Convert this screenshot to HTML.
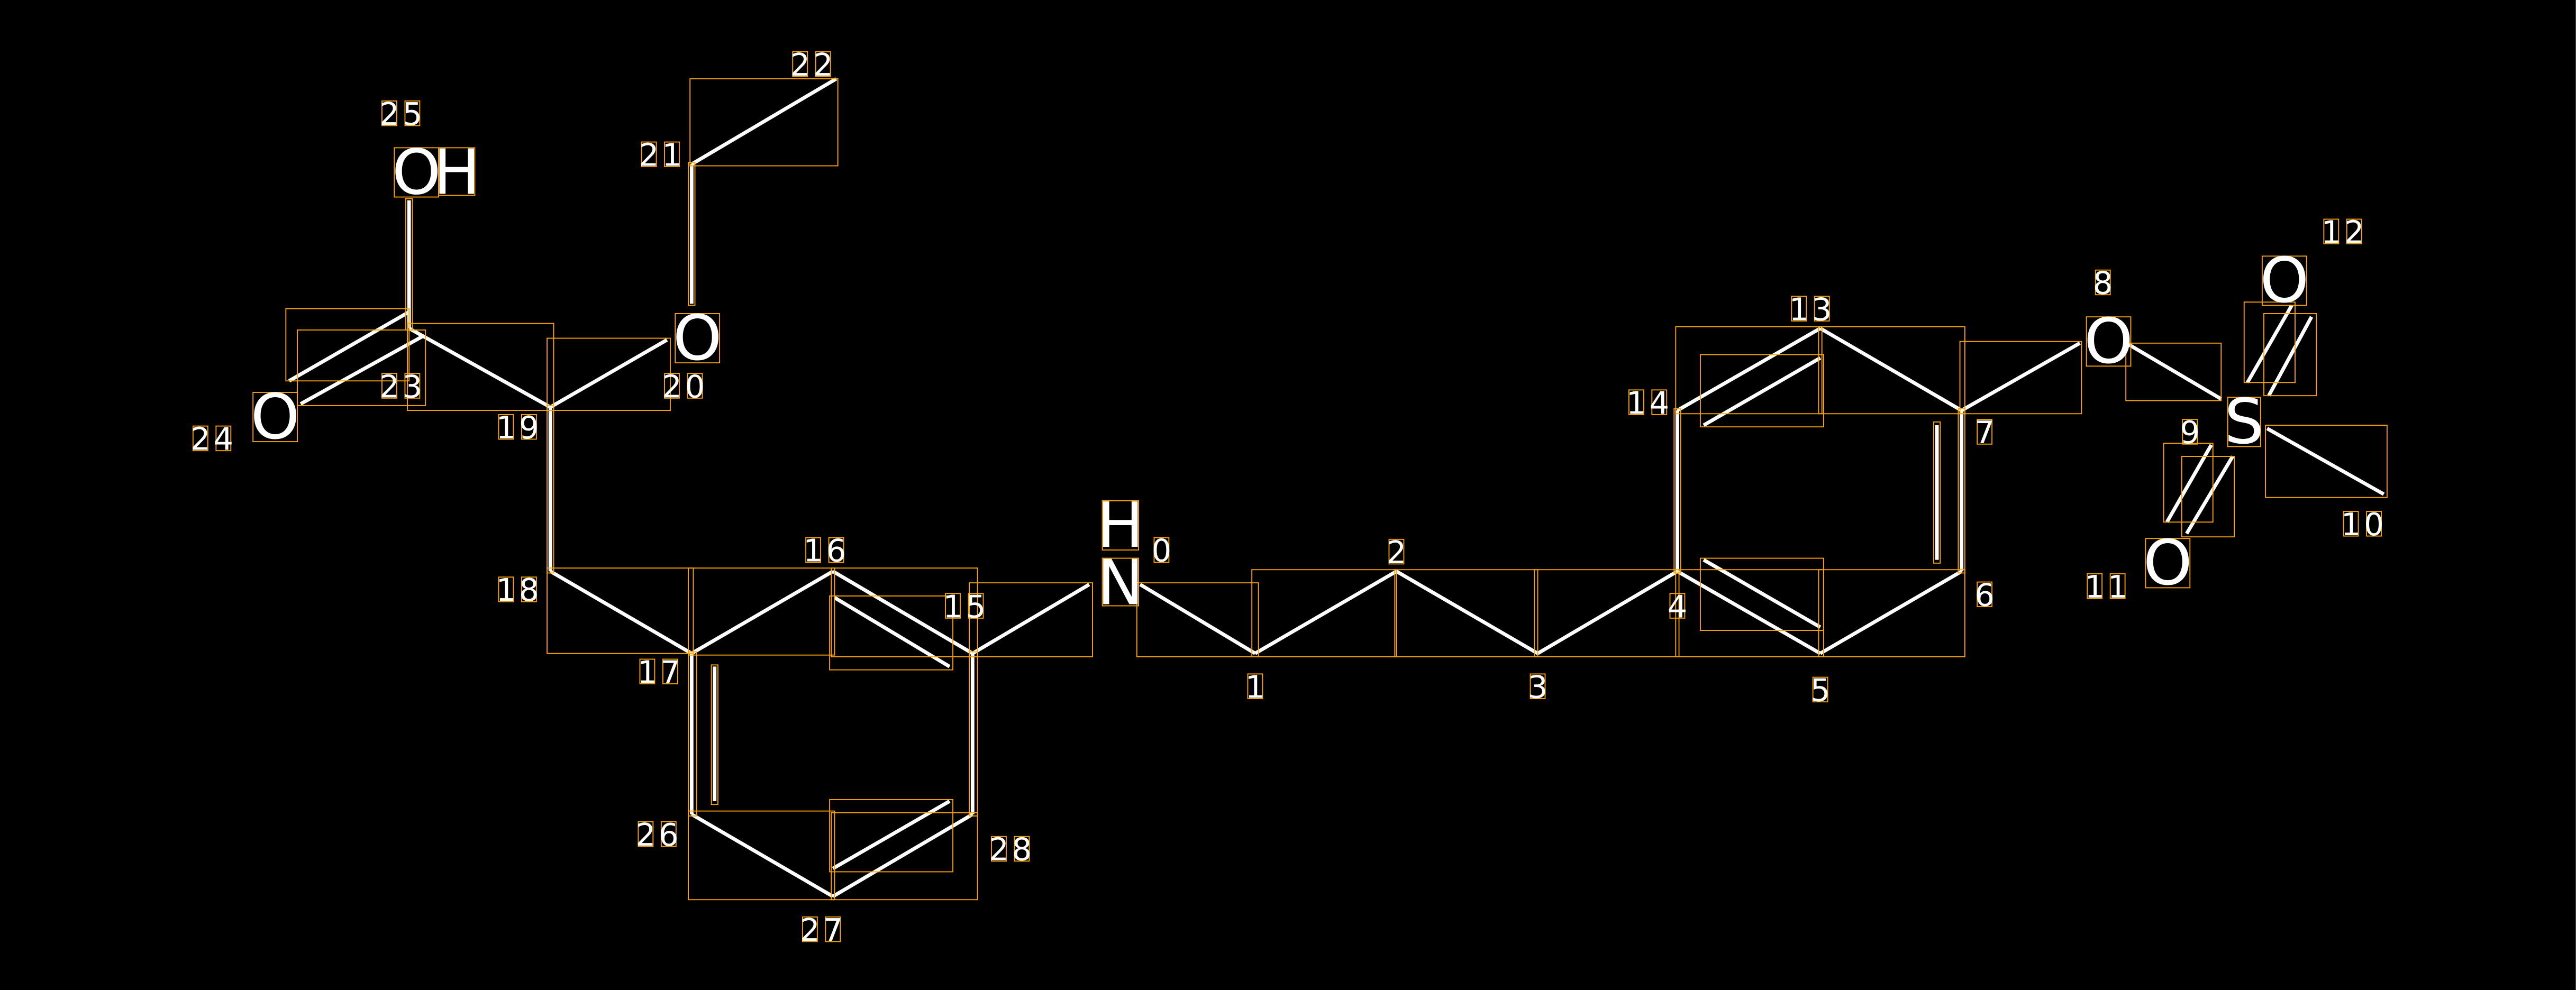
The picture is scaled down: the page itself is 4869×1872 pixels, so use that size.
<!DOCTYPE html>
<html><head><meta charset="utf-8"><style>
html,body{margin:0;padding:0;background:#000;}
svg{display:block;}
.b{stroke:#fff;stroke-width:2.2;stroke-linecap:butt;fill:none}
.r{stroke:#FFA500;stroke-width:0.6;fill:none}
.a{font-family:"DejaVu Sans","Liberation Sans",sans-serif;font-size:38px;fill:#fff;text-anchor:middle}
.d{font-family:"DejaVu Sans","Liberation Sans",sans-serif;font-size:19px;fill:#fff;text-anchor:middle}
</style></head><body>
<svg width="4869" height="1872" viewBox="0 0 1568 603" preserveAspectRatio="none" xmlns="http://www.w3.org/2000/svg">
<rect x="0" y="0" width="1568" height="603" fill="#000"/>
<line x1="1567.6" y1="0" x2="1567.6" y2="603" stroke="#555" stroke-width="0.4"/>
<g class="b">
<line x1="694" y1="356" x2="764" y2="398"/>
<line x1="764" y1="398" x2="850" y2="348"/>
<line x1="850" y1="348" x2="936" y2="398"/>
<line x1="936" y1="398" x2="1021" y2="348"/>
<line x1="1021" y1="348" x2="1108" y2="398"/>
<line x1="1037" y1="341" x2="1108" y2="382"/>
<line x1="1108" y1="398" x2="1194" y2="348"/>
<line x1="1194" y1="348" x2="1194" y2="250"/>
<line x1="1179" y1="259" x2="1179" y2="341"/>
<line x1="1194" y1="250" x2="1108" y2="200"/>
<line x1="1108" y1="200" x2="1021" y2="250"/>
<line x1="1037" y1="259" x2="1108" y2="218"/>
<line x1="1021" y1="250" x2="1021" y2="348"/>
<line x1="1194" y1="250" x2="1266" y2="209"/>
<line x1="1296" y1="210" x2="1352" y2="243"/>
<line x1="1368" y1="233" x2="1395" y2="186"/>
<line x1="1381" y1="241" x2="1407" y2="193"/>
<line x1="1380" y1="261" x2="1451" y2="301"/>
<line x1="1319" y1="318" x2="1346" y2="271"/>
<line x1="1331" y1="325" x2="1359" y2="278"/>
<line x1="663" y1="356" x2="592" y2="398"/>
<line x1="592" y1="398" x2="507" y2="348"/>
<line x1="508" y1="364" x2="578" y2="406"/>
<line x1="507" y1="348" x2="421" y2="398"/>
<line x1="421" y1="398" x2="335" y2="348"/>
<line x1="335" y1="348" x2="335" y2="248"/>
<line x1="335" y1="248" x2="249" y2="200"/>
<line x1="335" y1="248" x2="406" y2="207"/>
<line x1="421" y1="185" x2="421" y2="100"/>
<line x1="421" y1="100" x2="509" y2="48"/>
<line x1="249" y1="200" x2="249" y2="122"/>
<line x1="249" y1="190" x2="176" y2="232"/>
<line x1="257" y1="205" x2="183" y2="246"/>
<line x1="421" y1="398" x2="421" y2="496"/>
<line x1="435" y1="406" x2="435" y2="488"/>
<line x1="421" y1="496" x2="507" y2="546"/>
<line x1="507" y1="546" x2="592" y2="496"/>
<line x1="507" y1="529" x2="578" y2="488"/>
<line x1="592" y1="496" x2="592" y2="398"/>
</g>
<g class="r">
<rect x="692" y="355" width="74" height="45"/>
<rect x="762" y="347" width="88" height="53"/>
<rect x="849" y="347" width="87" height="53"/>
<rect x="934" y="347" width="88" height="53"/>
<rect x="1035" y="340" width="75" height="44"/>
<rect x="1020" y="347" width="90" height="53"/>
<rect x="1107" y="347" width="89" height="53"/>
<rect x="1192" y="249" width="4" height="100"/>
<rect x="1177" y="257" width="4" height="86"/>
<rect x="1107" y="199" width="89" height="53"/>
<rect x="1020" y="199" width="89" height="53"/>
<rect x="1035" y="216" width="75" height="44"/>
<rect x="1019" y="249" width="4" height="100"/>
<rect x="1193" y="208" width="74" height="44"/>
<rect x="1294" y="209" width="58" height="35"/>
<rect x="1366" y="184" width="31" height="49"/>
<rect x="1378" y="191" width="32" height="50"/>
<rect x="1379" y="259" width="74" height="44"/>
<rect x="1317" y="270" width="30" height="48"/>
<rect x="1328" y="278" width="32" height="49"/>
<rect x="590" y="355" width="75" height="45"/>
<rect x="506" y="346" width="89" height="54"/>
<rect x="505" y="363" width="75" height="45"/>
<rect x="419" y="346" width="89" height="53"/>
<rect x="333" y="346" width="89" height="52"/>
<rect x="333" y="247" width="4" height="102"/>
<rect x="248" y="197" width="89" height="53"/>
<rect x="333" y="206" width="75" height="44"/>
<rect x="419" y="99" width="4" height="87"/>
<rect x="420" y="48" width="90" height="53"/>
<rect x="247" y="121" width="4" height="80"/>
<rect x="174" y="188" width="75" height="44"/>
<rect x="181" y="201" width="78" height="46"/>
<rect x="419" y="397" width="5" height="100"/>
<rect x="433" y="405" width="4" height="85"/>
<rect x="419" y="494" width="89" height="54"/>
<rect x="506" y="495" width="89" height="53"/>
<rect x="505" y="487" width="75" height="44"/>
<rect x="590" y="397" width="5" height="100"/>
<rect x="671" y="340" width="22" height="29"/>
<rect x="671" y="305" width="22" height="30"/>
<rect x="240" y="90" width="27" height="30"/>
<rect x="267" y="90" width="22" height="29"/>
<rect x="411" y="191" width="27" height="30"/>
<rect x="154" y="239" width="27" height="30"/>
<rect x="1270" y="193" width="27" height="30"/>
<rect x="1377" y="156" width="27" height="30"/>
<rect x="1356" y="242" width="20" height="30"/>
<rect x="1306" y="328" width="27" height="30"/>
</g>
<g class="a">
<text x="682" y="368">N</text>
<text x="682" y="333">H</text>
<text x="253.5" y="118">O</text>
<text x="278" y="118">H</text>
<text x="424.5" y="219">O</text>
<text x="167.5" y="267">O</text>
<text x="1283.5" y="221">O</text>
<text x="1390.5" y="184">O</text>
<text x="1366" y="270">S</text>
<text x="1319.5" y="356">O</text>
</g>
<g class="r">
<rect x="702.5" y="327.5" width="9" height="15"/>
<rect x="759.5" y="410.5" width="9" height="15"/>
<rect x="845.5" y="328.5" width="9" height="15"/>
<rect x="931.5" y="410.5" width="9" height="15"/>
<rect x="1016.5" y="361.5" width="9" height="15"/>
<rect x="1103.5" y="412.5" width="9" height="15"/>
<rect x="1203.5" y="354.5" width="9" height="15"/>
<rect x="1203.5" y="255.5" width="9" height="15"/>
<rect x="1275.5" y="164.5" width="9" height="15"/>
<rect x="1328.5" y="255.5" width="9" height="15"/>
<rect x="1426.5" y="311.5" width="9" height="15"/><rect x="1440.5" y="311.5" width="9" height="15"/>
<rect x="1270.5" y="349.5" width="9" height="15"/><rect x="1284.5" y="349.5" width="9" height="15"/>
<rect x="1414.5" y="133.5" width="9" height="15"/><rect x="1428.5" y="133.5" width="9" height="15"/>
<rect x="1090.5" y="180.5" width="9" height="15"/><rect x="1104.5" y="180.5" width="9" height="15"/>
<rect x="991.5" y="237.5" width="9" height="15"/><rect x="1005.5" y="237.5" width="9" height="15"/>
<rect x="575.5" y="361.5" width="9" height="15"/><rect x="589.5" y="361.5" width="9" height="15"/>
<rect x="490.5" y="327.5" width="9" height="15"/><rect x="504.5" y="327.5" width="9" height="15"/>
<rect x="389.5" y="401.5" width="9" height="15"/><rect x="403.5" y="401.5" width="9" height="15"/>
<rect x="303.5" y="351.5" width="9" height="15"/><rect x="317.5" y="351.5" width="9" height="15"/>
<rect x="303.5" y="252.5" width="9" height="15"/><rect x="317.5" y="252.5" width="9" height="15"/>
<rect x="404.5" y="227.5" width="9" height="15"/><rect x="418.5" y="227.5" width="9" height="15"/>
<rect x="390.5" y="86.5" width="9" height="15"/><rect x="404.5" y="86.5" width="9" height="15"/>
<rect x="482.5" y="31.5" width="9" height="15"/><rect x="496.5" y="31.5" width="9" height="15"/>
<rect x="232.5" y="227.5" width="9" height="15"/><rect x="246.5" y="227.5" width="9" height="15"/>
<rect x="117.5" y="259.5" width="9" height="15"/><rect x="131.5" y="259.5" width="9" height="15"/>
<rect x="232.5" y="61.5" width="9" height="15"/><rect x="246.5" y="61.5" width="9" height="15"/>
<rect x="388.5" y="500.5" width="9" height="15"/><rect x="402.5" y="500.5" width="9" height="15"/>
<rect x="488.5" y="558.5" width="9" height="15"/><rect x="502.5" y="558.5" width="9" height="15"/>
<rect x="603.5" y="509.5" width="9" height="15"/><rect x="617.5" y="509.5" width="9" height="15"/>
</g>
<g class="d">
<text x="707" y="342">0</text>
<text x="764" y="425">1</text>
<text x="850" y="343">2</text>
<text x="936" y="425">3</text>
<text x="1021" y="376">4</text>
<text x="1108" y="427">5</text>
<text x="1208" y="369">6</text>
<text x="1208" y="270">7</text>
<text x="1280" y="179">8</text>
<text x="1333" y="270">9</text>
<text x="1431" y="326">1</text><text x="1445" y="326">0</text>
<text x="1275" y="364">1</text><text x="1289" y="364">1</text>
<text x="1419" y="148">1</text><text x="1433" y="148">2</text>
<text x="1095" y="195">1</text><text x="1109" y="195">3</text>
<text x="996" y="252">1</text><text x="1010" y="252">4</text>
<text x="580" y="376">1</text><text x="594" y="376">5</text>
<text x="495" y="342">1</text><text x="509" y="342">6</text>
<text x="394" y="416">1</text><text x="408" y="416">7</text>
<text x="308" y="366">1</text><text x="322" y="366">8</text>
<text x="308" y="267">1</text><text x="322" y="267">9</text>
<text x="409" y="242">2</text><text x="423" y="242">0</text>
<text x="395" y="101">2</text><text x="409" y="101">1</text>
<text x="487" y="46">2</text><text x="501" y="46">2</text>
<text x="237" y="242">2</text><text x="251" y="242">3</text>
<text x="122" y="274">2</text><text x="136" y="274">4</text>
<text x="237" y="76">2</text><text x="251" y="76">5</text>
<text x="393" y="515">2</text><text x="407" y="515">6</text>
<text x="493" y="573">2</text><text x="507" y="573">7</text>
<text x="608" y="524">2</text><text x="622" y="524">8</text>
</g>
</svg>
</body></html>
